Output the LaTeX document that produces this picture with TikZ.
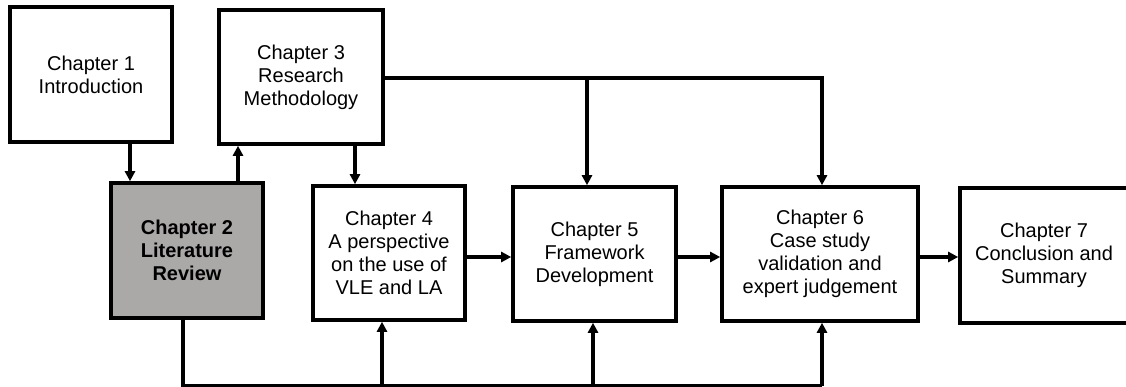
\documentclass[tikz,border=0pt]{standalone}
\usepackage{fontspec}
\setmainfont{Liberation Sans}
\usetikzlibrary{arrows.meta}
\definecolor{chgray}{RGB}{171,168,168}
\begin{document}
\begin{tikzpicture}[x=1pt,y=-1pt,
  chapbox/.style={draw=black, line width=3.6pt, fill=white, align=center,
    inner sep=0pt, font=\fontsize{20}{23}\selectfont},
  link/.style={line width=3.2pt, draw=black},
  arr/.style={link, -{Triangle[length=10pt,width=10pt]}}]
\useasboundingbox (0,0) rectangle (1126,387);

% chapter boxes
\node[chapbox, minimum width=162pt, minimum height=135pt] (c1) at (91,74.5) {Chapter 1\\Introduction};
\node[chapbox, minimum width=164pt, minimum height=134pt] (c3) at (301,77) {Chapter 3\\Research\\Methodology};
\node[chapbox, fill=chgray, font=\fontsize{20}{23}\selectfont\bfseries,
      minimum width=152pt, minimum height=135pt] (c2) at (187,250.5) {Chapter 2\\Literature\\Review};
\node[chapbox, minimum width=152pt, minimum height=134pt] (c4) at (389,253) {Chapter 4\\A perspective\\on the use of\\VLE and LA};
\node[chapbox, minimum width=163pt, minimum height=134pt] (c5) at (594.5,254) {Chapter 5\\Framework\\Development};
\node[chapbox, minimum width=196pt, minimum height=134pt] (c6) at (820,254) {Chapter 6\\Case study\\validation and\\expert judgement};
\node[chapbox, minimum width=168pt, minimum height=135pt] (c7) at (1044,255.5) {Chapter 7\\Conclusion and\\Summary};

% routing guides
\coordinate (xa) at (130,0);
\coordinate (xb) at (238,0);
\coordinate (xc) at (355,0);
\coordinate (xd) at (587,0);
\coordinate (xe) at (822,0);
\coordinate (xf) at (183,0);
\coordinate (xg) at (382,0);
\coordinate (xh) at (593,0);
\coordinate (ytop) at (0,78);
\coordinate (ymid) at (0,257);
\coordinate (ybot) at (0,386);

% upper connectors
\draw[arr] (c1.south -| xa) -- (c2.north -| xa);
\draw[arr] (c2.north -| xb) -- (c3.south -| xb);
\draw[arr] (c3.south -| xc) -- (c4.north -| xc);
\draw[arr] (c3.east |- ytop) -| (c6.north -| xe);
\draw[arr] (xd |- ytop) -- (c5.north -| xd);

% main sequence
\draw[arr] (c4.east |- ymid) -- (c5.west |- ymid);
\draw[arr] (c5.east |- ymid) -- (c6.west |- ymid);
\draw[arr] (c6.east |- ymid) -- (c7.west |- ymid);

% feedback line from chapter 2
\draw[link] (c2.south -| xf) -- (xf |- ybot) -- (xe |- ybot);
\draw[arr] (xg |- ybot) -- (c4.south -| xg);
\draw[arr] (xh |- ybot) -- (c5.south -| xh);
\draw[arr] (xe |- ybot) -- (c6.south -| xe);
\end{tikzpicture}
\end{document}
